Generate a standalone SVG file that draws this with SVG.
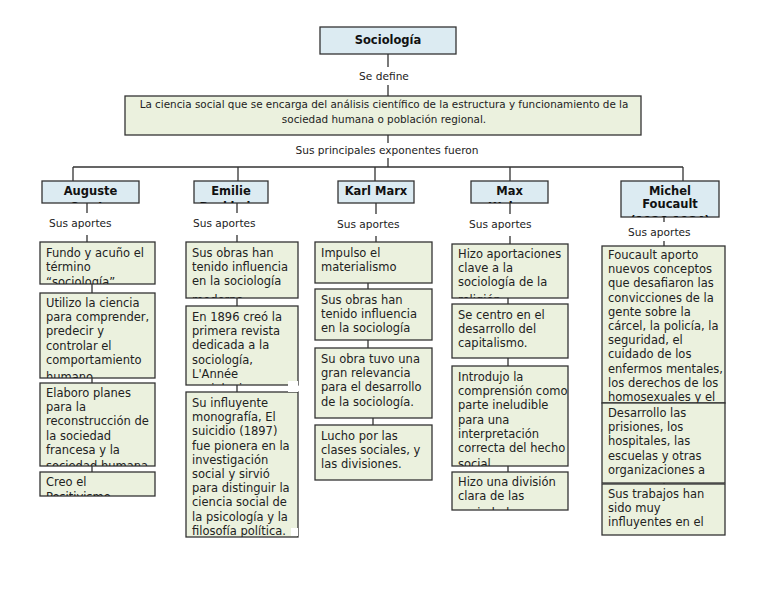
<svg xmlns="http://www.w3.org/2000/svg" width="768" height="594" viewBox="0 0 768 594">
<style>
text{font-family:"DejaVu Sans","Liberation Sans",sans-serif;font-size:11.5px;fill:#222}
.l{font-size:10.6px}
.t{font-weight:bold;font-size:11.5px;text-anchor:middle;fill:#111}
.tb{fill:#dcebf2;stroke:#333;stroke-width:1.3}
.cb{fill:#ebf1de;stroke:#333;stroke-width:1.3}
.ln{stroke:#333;stroke-width:1.3;fill:none}
.m{text-anchor:middle}
.d{font-size:10.4px}
</style>
<rect width="768" height="594" fill="#fff"/>
<g id="connectors" class="ln">
<path d="M388 54V67M388 85V96M388 135V143M388 158V167M73 167H683M73 167V181M238 167V181M375 167V181M510 167V181M683 167V181"/>
<path d="M87 203V213M87 235V242M92 284V293M92 378V383M92 466V472"/>
<path d="M237 203V213M237 235V242M237 298V306M237 385V392"/>
<path d="M376 203V214M376 236V242M368 283V289M368 340V348M373 418V425"/>
<path d="M510 203V214M510 236V244M508 298V304M508 358V366M508 466V472"/>
<path d="M664 217V222M664 241V246M664 395V403M664 476V484"/>
</g>
<g id="n-sociologia"><rect class="tb" x="320" y="27" width="136" height="27"/><text class="t" x="388" y="44">Sociología</text></g>
<g id="l-sedefine"><text class="m l" x="384" y="80">Se define</text></g>
<g id="n-def"><rect class="cb" x="125" y="96" width="516" height="39"/><text class="m d" x="384" y="108">La ciencia social que se encarga del análisis científico de la estructura y funcionamiento de la</text><text class="m d" x="384" y="123">sociedad humana o población regional.</text></g>
<g id="l-exp"><text class="m l" x="387" y="154">Sus principales exponentes fueron</text></g>

<g id="n-auguste"><rect class="tb" x="42" y="181" width="97" height="22"/><svg x="42" y="181" width="97" height="22"><text class="t" x="48.5" y="14">Auguste</text><text class="t" x="48.5" y="29.5">Comte</text></svg></g>
<g id="n-emilie"><rect class="tb" x="194" y="181" width="74" height="22"/><svg x="194" y="181" width="74" height="22"><text class="t" x="37" y="14">Emilie</text><text class="t" x="37" y="29.5">Durkheim</text></svg></g>
<g id="n-marx"><rect class="tb" x="338" y="181" width="76" height="22"/><text class="t" x="376" y="195">Karl Marx</text></g>
<g id="n-max"><rect class="tb" x="471" y="181" width="77" height="22"/><svg x="471" y="181" width="77" height="22"><text class="t" x="38.5" y="14">Max</text><text class="t" x="38.5" y="29.5">Weber</text></svg></g>
<g id="n-michel"><rect class="tb" x="621" y="181" width="98" height="36"/><svg x="621" y="181" width="98" height="36"><text class="t" x="49" y="13.5">Michel</text><text class="t" x="49" y="26.5">Foucault</text><text class="t" x="49" y="43.5">(1926-1984)</text></svg></g>

<g id="l-aportes">
<svg x="41" y="213" width="90" height="20"><text class="l" x="8" y="14">Sus aportes</text><text class="l" x="8" y="29">fueron</text></svg>
<svg x="185" y="213" width="90" height="20"><text class="l" x="8" y="14">Sus aportes</text><text class="l" x="8" y="29">fueron</text></svg>
<svg x="329" y="214" width="90" height="20"><text class="l" x="8" y="14">Sus aportes</text><text class="l" x="8" y="29">fueron</text></svg>
<svg x="461" y="214" width="90" height="20"><text class="l" x="8" y="14">Sus aportes</text><text class="l" x="8" y="29">fueron</text></svg>
<svg x="620" y="223" width="90" height="17"><text class="l" x="8" y="13">Sus aportes</text></svg>
</g>

<g id="n-a1"><rect class="cb" x="40" y="242" width="115" height="42"/><svg x="40" y="242" width="115" height="42"><text x="6" y="15">Fundo y acuño el</text><text x="6" y="29.2">término</text><text x="6" y="44">“sociología”</text></svg></g>
<g id="n-a2"><rect class="cb" x="40" y="293" width="115" height="85"/><svg x="40" y="293" width="115" height="85"><text x="6" y="14"><tspan x="6">Utilizo la ciencia</tspan><tspan x="6" dy="14.2">para comprender,</tspan><tspan x="6" dy="14.2">predecir y</tspan><tspan x="6" dy="14.2">controlar el</tspan><tspan x="6" dy="14.2">comportamiento</tspan><tspan x="6" dy="17.5">humano</tspan></text></svg></g>
<g id="n-a3"><rect class="cb" x="40" y="383" width="115" height="83"/><svg x="40" y="383" width="115" height="83"><text x="6" y="14"><tspan x="6">Elaboro planes</tspan><tspan x="6" dy="14.2">para la</tspan><tspan x="6" dy="14.2">reconstrucción de</tspan><tspan x="6" dy="14.2">la sociedad</tspan><tspan x="6" dy="14.2">francesa y la</tspan><tspan x="6" dy="16">sociedad humana</tspan></text></svg></g>
<g id="n-a4"><rect class="cb" x="40" y="472" width="115" height="24"/><svg x="40" y="472" width="115" height="24"><text x="6" y="14"><tspan x="6">Creo el</tspan><tspan x="6" dy="14.5">Positivismo</tspan></text></svg></g>

<g id="n-e1"><rect class="cb" x="186" y="242" width="112" height="56"/><svg x="186" y="242" width="112" height="56"><text x="6" y="15"><tspan x="6">Sus obras han</tspan><tspan x="6" dy="14.2">tenido influencia</tspan><tspan x="6" dy="14.2">en la sociología</tspan><tspan x="6" dy="18.5">moderna</tspan></text></svg></g>
<g id="n-e2"><rect class="cb" x="186" y="306" width="112" height="79"/><svg x="186" y="306" width="112" height="79"><text x="6" y="15"><tspan x="6">En 1896 creó la</tspan><tspan x="6" dy="14.2">primera revista</tspan><tspan x="6" dy="14.2">dedicada a la</tspan><tspan x="6" dy="14.2">sociología,</tspan><tspan x="6" dy="14.2">L'Année</tspan><tspan x="6" dy="15">sociologique</tspan></text></svg></g>
<g id="n-e3"><rect class="cb" x="186" y="392" width="112" height="145"/><svg x="186" y="392" width="112" height="145"><text x="6" y="15"><tspan x="6">Su influyente</tspan><tspan x="6" dy="14.2">monografía, El</tspan><tspan x="6" dy="14.2">suicidio (1897)</tspan><tspan x="6" dy="14.2">fue pionera en la</tspan><tspan x="6" dy="14.2">investigación</tspan><tspan x="6" dy="14.2">social y sirvió</tspan><tspan x="6" dy="14.2">para distinguir la</tspan><tspan x="6" dy="14.2">ciencia social de</tspan><tspan x="6" dy="14.2">la psicología y la</tspan><tspan x="6" dy="14.2">filosofía política.</tspan></text></svg><rect x="288" y="381" width="10" height="11" fill="#fff"/><rect x="291" y="528" width="7" height="8" fill="#fff"/></g>

<g id="n-k1"><rect class="cb" x="315" y="242" width="117" height="41"/><svg x="315" y="242" width="117" height="41"><text x="6" y="15"><tspan x="6">Impulso el</tspan><tspan x="6" dy="14.2">materialismo</tspan></text></svg></g>
<g id="n-k2"><rect class="cb" x="315" y="289" width="117" height="51"/><svg x="315" y="289" width="117" height="51"><text x="6" y="15"><tspan x="6">Sus obras han</tspan><tspan x="6" dy="14.2">tenido influencia</tspan><tspan x="6" dy="14.2">en la sociología</tspan><tspan x="6" dy="17.5">moderna</tspan></text></svg></g>
<g id="n-k3"><rect class="cb" x="315" y="348" width="117" height="70"/><svg x="315" y="348" width="117" height="70"><text x="6" y="15"><tspan x="6">Su obra tuvo una</tspan><tspan x="6" dy="14.2">gran relevancia</tspan><tspan x="6" dy="14.2">para el desarrollo</tspan><tspan x="6" dy="14.2">de la sociología.</tspan></text></svg></g>
<g id="n-k4"><rect class="cb" x="315" y="425" width="117" height="55"/><svg x="315" y="425" width="117" height="55"><text x="6" y="15"><tspan x="6">Lucho por las</tspan><tspan x="6" dy="14.2">clases sociales, y</tspan><tspan x="6" dy="14.2">las divisiones.</tspan></text></svg></g>

<g id="n-m1"><rect class="cb" x="452" y="244" width="116" height="54"/><svg x="452" y="244" width="116" height="54"><text x="6" y="14"><tspan x="6">Hizo aportaciones</tspan><tspan x="6" dy="14.2">clave a la</tspan><tspan x="6" dy="14.2">sociología de la</tspan><tspan x="6" dy="17.5">religión</tspan></text></svg></g>
<g id="n-m2"><rect class="cb" x="452" y="304" width="116" height="54"/><svg x="452" y="304" width="116" height="54"><text x="6" y="15"><tspan x="6">Se centro en el</tspan><tspan x="6" dy="14.2">desarrollo del</tspan><tspan x="6" dy="14.2">capitalismo.</tspan></text></svg></g>
<g id="n-m3"><rect class="cb" x="452" y="366" width="116" height="100"/><svg x="452" y="366" width="116" height="100"><text x="6" y="15"><tspan x="6">Introdujo la</tspan><tspan x="6" dy="14.2">comprensión como</tspan><tspan x="6" dy="14.2">parte ineludible</tspan><tspan x="6" dy="14.2">para una</tspan><tspan x="6" dy="14.2">interpretación</tspan><tspan x="6" dy="14.2">correcta del hecho</tspan><tspan x="6" dy="16">social.</tspan></text></svg></g>
<g id="n-m4"><rect class="cb" x="452" y="472" width="116" height="38"/><svg x="452" y="472" width="116" height="38"><text x="6" y="14"><tspan x="6">Hizo una división</tspan><tspan x="6" dy="14.2">clara de las</tspan><tspan x="6" dy="17">sociedades</tspan></text></svg></g>

<g id="n-f1"><rect class="cb" x="602" y="246" width="123" height="157"/><svg x="602" y="246" width="123" height="157"><text x="6" y="13"><tspan x="6">Foucault aporto</tspan><tspan x="6" dy="14.2">nuevos conceptos</tspan><tspan x="6" dy="14.2">que desafiaron las</tspan><tspan x="6" dy="14.2">convicciones de la</tspan><tspan x="6" dy="14.2">gente sobre la</tspan><tspan x="6" dy="14.2">cárcel, la policía, la</tspan><tspan x="6" dy="14.2">seguridad, el</tspan><tspan x="6" dy="14.2">cuidado de los</tspan><tspan x="6" dy="14.2">enfermos mentales,</tspan><tspan x="6" dy="14.2">los derechos de los</tspan><tspan x="6" dy="14.2">homosexuales y el</tspan></text></svg></g>
<g id="n-f2"><rect class="cb" x="602" y="403" width="123" height="80"/><svg x="602" y="403" width="123" height="80"><text x="6" y="14"><tspan x="6">Desarrollo las</tspan><tspan x="6" dy="14.2">prisiones, los</tspan><tspan x="6" dy="14.2">hospitales, las</tspan><tspan x="6" dy="14.2">escuelas y otras</tspan><tspan x="6" dy="14.2">organizaciones a</tspan></text></svg></g>
<g id="n-f3"><rect class="cb" x="602" y="484" width="123" height="51"/><svg x="602" y="484" width="123" height="51"><text x="6" y="14"><tspan x="6">Sus trabajos han</tspan><tspan x="6" dy="14.2">sido muy</tspan><tspan x="6" dy="14.2">influyentes en el</tspan></text></svg></g>
</svg>
